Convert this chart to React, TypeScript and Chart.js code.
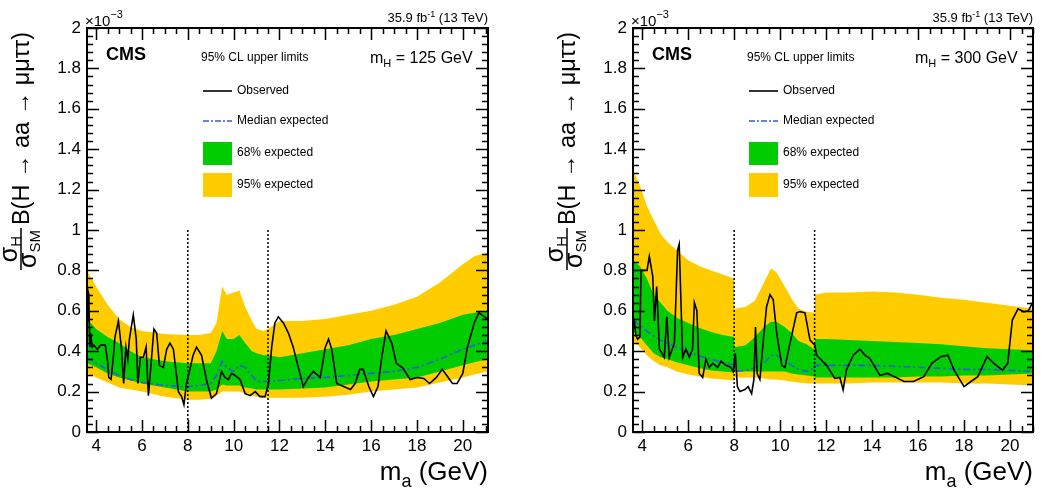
import React, { useEffect, useRef } from "react";
import { Chart, registerables } from "chart.js";

Chart.register(...registerables);

const FONT = "'Liberation Sans', Arial, Helvetica, sans-serif";

// ---------- axes ----------
const xTickValues = [4, 6, 8, 10, 12, 14, 16, 18, 20];
const yTickValues = [0, 0.2, 0.4, 0.6, 0.8, 1, 1.2, 1.4, 1.6, 1.8, 2];
const yTickLabels = ["0", "0.2", "0.4", "0.6", "0.8", "1", "1.2", "1.4", "1.6", "1.8", "2"];
const dividerMasses = [8, 11.5];
const dividerTop = 1.0;

// ---------- mH = 125 GeV (limits in units of 1e-3) ----------
const band125Mass = [3.6, 4, 4.5, 5, 5.5, 6, 7, 8, 8.5, 9, 9.25, 9.5, 9.7, 10, 10.25, 10.5, 10.8, 11, 11.3, 11.5, 12, 13, 14, 15, 16, 17, 18, 19, 20, 20.5, 21.1];
const yellowHi125 = [0.80, 0.72, 0.63, 0.56, 0.52, 0.50, 0.485, 0.48, 0.48, 0.49, 0.54, 0.72, 0.68, 0.69, 0.70, 0.62, 0.55, 0.51, 0.50, 0.51, 0.55, 0.55, 0.56, 0.58, 0.60, 0.63, 0.67, 0.74, 0.83, 0.87, 0.89];
const yellowLo125 = [0.29, 0.27, 0.245, 0.22, 0.21, 0.20, 0.175, 0.16, 0.16, 0.165, 0.18, 0.20, 0.20, 0.20, 0.20, 0.19, 0.18, 0.175, 0.17, 0.17, 0.17, 0.17, 0.175, 0.185, 0.20, 0.21, 0.22, 0.245, 0.27, 0.285, 0.30];
const greenHi125 = [0.56, 0.51, 0.47, 0.44, 0.40, 0.37, 0.35, 0.34, 0.34, 0.34, 0.40, 0.50, 0.46, 0.46, 0.48, 0.44, 0.40, 0.39, 0.38, 0.38, 0.37, 0.39, 0.41, 0.43, 0.46, 0.48, 0.51, 0.54, 0.58, 0.59, 0.60];
const greenLo125 = [0.34, 0.32, 0.29, 0.27, 0.255, 0.24, 0.22, 0.20, 0.20, 0.20, 0.21, 0.235, 0.23, 0.23, 0.23, 0.22, 0.215, 0.21, 0.21, 0.21, 0.21, 0.215, 0.22, 0.235, 0.25, 0.26, 0.27, 0.30, 0.33, 0.345, 0.36];
const median125 = [0.37, 0.34, 0.31, 0.28, 0.26, 0.245, 0.23, 0.225, 0.23, 0.24, 0.28, 0.35, 0.32, 0.30, 0.33, 0.32, 0.28, 0.25, 0.25, 0.25, 0.255, 0.265, 0.27, 0.28, 0.29, 0.30, 0.32, 0.36, 0.41, 0.43, 0.45];
const obsMass125 = [3.6, 3.64, 3.68, 3.72, 3.76, 3.82, 3.9, 4.05, 4.2, 4.4, 4.5, 4.55, 4.65, 4.75, 4.82, 4.97, 5.1, 5.2, 5.3, 5.38, 5.45, 5.62, 5.75, 5.82, 5.93, 6.06, 6.18, 6.28, 6.42, 6.52, 6.64, 6.76, 6.93, 7.08, 7.22, 7.37, 7.59, 7.73, 7.83, 7.94, 8.09, 8.23, 8.38, 8.6, 8.81, 9.03, 9.25, 9.47, 9.62, 9.77, 9.91, 10.06, 10.28, 10.5, 10.72, 10.94, 11.15, 11.37, 11.52, 11.66, 11.8, 11.95, 12.17, 12.39, 12.6, 12.82, 13.04, 13.26, 13.48, 13.78, 14.0, 14.14, 14.28, 14.5, 14.8, 15.1, 15.3, 15.5, 15.65, 15.9, 16.1, 16.3, 16.45, 16.65, 16.9, 17.1, 17.4, 17.7, 18.0, 18.3, 18.55, 18.85, 19.1, 19.3, 19.55, 19.75, 20.0, 20.2, 20.5, 20.7, 20.95, 21.1];
const obsLimit125 = [0.55, 0.70, 0.68, 0.42, 0.49, 0.42, 0.43, 0.41, 0.43, 0.43, 0.35, 0.27, 0.26, 0.37, 0.47, 0.55, 0.42, 0.24, 0.42, 0.36, 0.46, 0.58, 0.46, 0.24, 0.37, 0.37, 0.42, 0.18, 0.37, 0.51, 0.49, 0.33, 0.32, 0.41, 0.44, 0.41, 0.20, 0.175, 0.135, 0.24, 0.31, 0.38, 0.42, 0.38, 0.26, 0.167, 0.19, 0.30, 0.27, 0.26, 0.29, 0.28, 0.26, 0.19, 0.18, 0.20, 0.175, 0.175, 0.24, 0.42, 0.54, 0.57, 0.54, 0.49, 0.42, 0.32, 0.225, 0.27, 0.30, 0.27, 0.42, 0.46, 0.41, 0.24, 0.225, 0.21, 0.24, 0.31, 0.31, 0.225, 0.175, 0.225, 0.36, 0.50, 0.44, 0.34, 0.315, 0.26, 0.27, 0.265, 0.24, 0.27, 0.31, 0.28, 0.24, 0.24, 0.29, 0.42, 0.54, 0.59, 0.57, 0.555];

// ---------- mH = 300 GeV (limits in units of 1e-3) ----------
const band300Mass = [3.6, 3.9, 4.2, 4.5, 4.8, 5.1, 5.5, 6.0, 6.5, 7.0, 7.5, 7.99, 8.01, 8.5, 8.9, 9.3, 9.6, 9.85, 10.2, 10.5, 10.8, 11.15, 11.49, 11.51, 12, 13, 14, 15, 16, 17, 18, 19, 20, 21];
const yellowHi300 = [1.30, 1.22, 1.12, 1.05, 0.98, 0.94, 0.90, 0.85, 0.82, 0.80, 0.78, 0.76, 0.61, 0.62, 0.65, 0.74, 0.81, 0.79, 0.72, 0.66, 0.61, 0.595, 0.59, 0.68, 0.69, 0.69, 0.695, 0.69, 0.68, 0.665, 0.655, 0.64, 0.625, 0.61];
const yellowLo300 = [0.45, 0.42, 0.38, 0.35, 0.33, 0.32, 0.30, 0.285, 0.275, 0.265, 0.26, 0.255, 0.27, 0.27, 0.27, 0.265, 0.26, 0.26, 0.255, 0.25, 0.245, 0.24, 0.24, 0.24, 0.24, 0.24, 0.245, 0.245, 0.245, 0.245, 0.24, 0.24, 0.235, 0.23];
const greenHi300 = [0.85, 0.82, 0.76, 0.68, 0.64, 0.60, 0.565, 0.54, 0.515, 0.495, 0.48, 0.47, 0.42, 0.43, 0.47, 0.52, 0.546, 0.545, 0.52, 0.49, 0.45, 0.435, 0.41, 0.46, 0.46, 0.455, 0.45, 0.445, 0.44, 0.435, 0.425, 0.415, 0.41, 0.405];
const greenLo300 = [0.50, 0.47, 0.43, 0.39, 0.37, 0.36, 0.345, 0.33, 0.315, 0.305, 0.30, 0.295, 0.30, 0.30, 0.30, 0.30, 0.30, 0.30, 0.30, 0.29, 0.285, 0.28, 0.275, 0.27, 0.27, 0.27, 0.27, 0.27, 0.275, 0.275, 0.28, 0.28, 0.285, 0.29];
const median300 = [0.555, 0.53, 0.50, 0.475, 0.455, 0.44, 0.42, 0.395, 0.375, 0.36, 0.345, 0.33, 0.30, 0.305, 0.32, 0.34, 0.38, 0.38, 0.36, 0.33, 0.31, 0.30, 0.315, 0.33, 0.33, 0.33, 0.33, 0.325, 0.32, 0.315, 0.31, 0.31, 0.305, 0.30];
const obsMass300 = [3.6, 3.66, 3.72, 3.8, 3.9, 3.95, 4.09, 4.21, 4.31, 4.46, 4.53, 4.63, 4.75, 4.96, 5.07, 5.18, 5.4, 5.54, 5.61, 5.76, 5.9, 6.05, 6.19, 6.27, 6.38, 6.48, 6.63, 6.77, 6.92, 7.07, 7.28, 7.43, 7.64, 7.86, 7.96, 8.05, 8.14, 8.25, 8.47, 8.61, 8.76, 8.86, 8.93, 9.0, 9.12, 9.27, 9.41, 9.56, 9.7, 9.85, 10.07, 10.21, 10.43, 10.72, 10.86, 11.08, 11.3, 11.51, 11.59, 12.02, 12.38, 12.6, 12.74, 12.89, 13.18, 13.47, 13.69, 13.9, 14.34, 14.67, 14.97, 15.39, 15.8, 16.25, 16.6, 16.99, 17.3, 17.57, 18.0, 18.3, 18.6, 19.0, 19.3, 19.67, 19.9, 20.1, 20.35, 20.6, 20.8, 21.0];
const obsLimit300 = [0.57, 0.55, 0.48, 0.46, 0.47, 0.80, 0.80, 0.80, 0.87, 0.77, 0.55, 0.72, 0.41, 0.37, 0.57, 0.37, 0.44, 0.90, 0.93, 0.37, 0.41, 0.37, 0.41, 0.64, 0.60, 0.29, 0.27, 0.36, 0.32, 0.34, 0.32, 0.35, 0.33, 0.32, 0.30, 0.39, 0.225, 0.20, 0.21, 0.225, 0.19, 0.26, 0.52, 0.29, 0.26, 0.455, 0.62, 0.68, 0.655, 0.49, 0.33, 0.32, 0.44, 0.59, 0.596, 0.59, 0.455, 0.43, 0.38, 0.33, 0.265, 0.27, 0.208, 0.31, 0.38, 0.41, 0.38, 0.365, 0.28, 0.29, 0.274, 0.25, 0.25, 0.274, 0.34, 0.373, 0.38, 0.306, 0.225, 0.25, 0.274, 0.373, 0.34, 0.306, 0.34, 0.554, 0.61, 0.595, 0.60, 0.645];

// ---------- colours ----------
const GREEN = "#00cc00";
const YELLOW = "#ffcc00";
const MEDIAN_BLUE = "#2b5fd9";

type Part = { t: string; size: number; dy?: number; bold?: boolean };

function drawRich(ctx: CanvasRenderingContext2D, parts: Part[], x: number, y: number, align: "left" | "right") {
  ctx.textBaseline = "alphabetic";
  ctx.textAlign = "left";
  const widths = parts.map((p) => {
    ctx.font = `${p.bold ? "bold " : ""}${p.size}px ${FONT}`;
    return ctx.measureText(p.t).width;
  });
  const total = widths.reduce((a, b) => a + b, 0);
  let cx = align === "right" ? x - total : x;
  parts.forEach((p, i) => {
    ctx.font = `${p.bold ? "bold " : ""}${p.size}px ${FONT}`;
    ctx.fillText(p.t, cx, y + (p.dy || 0));
    cx += widths[i];
  });
  return total;
}

function pts(xs: number[], ys: number[]) {
  return xs.map((x, i) => ({ x, y: ys[i] }));
}

type PanelProps = {
  left: number;
  width: number;
  plotRight: number;
  xMax: number;
  mHValue: string;
  bandMass: number[];
  yHi: number[];
  yLo: number[];
  gHi: number[];
  gLo: number[];
  med: number[];
  obsMass: number[];
  obs: number[];
};

const HEIGHT = 499;
const PLOT_TOP = 28;
const PLOT_BOTTOM = 432;
const PLOT_LEFT = 87;

function Panel(props: PanelProps) {
  const ref = useRef<HTMLCanvasElement | null>(null);
  useEffect(() => {
    const canvas = ref.current;
    if (!canvas) return;
    const { width, plotRight, xMax, mHValue } = props;

    const decor = {
      id: "decor" + mHValue,
      afterDatasetsDraw(chart: any) {
        const { ctx, chartArea: a, scales } = chart;
        const xs = scales.x;
        const ys = scales.y;
        ctx.save();
        ctx.strokeStyle = "#000";
        ctx.fillStyle = "#000";
        // ticks
        ctx.lineWidth = 1.5;
        ctx.beginPath();
        for (let k = 0; k * 0.5 + 4 <= xMax + 1e-9; k++) {
          const v = 4 + k * 0.5;
          const major = k % 4 === 0;
          const len = major ? 12 : 6;
          const px = Math.round(xs.getPixelForValue(v)) + 0.5;
          ctx.moveTo(px, a.bottom);
          ctx.lineTo(px, a.bottom - len);
          ctx.moveTo(px, a.top);
          ctx.lineTo(px, a.top + len);
        }
        for (let k = 0; k <= 50; k++) {
          const v = k * 0.04;
          const major = k % 5 === 0;
          const len = major ? 12 : 6;
          const py = Math.round(ys.getPixelForValue(v)) + 0.5;
          ctx.moveTo(a.left, py);
          ctx.lineTo(a.left + len, py);
          ctx.moveTo(a.right, py);
          ctx.lineTo(a.right - len, py);
        }
        ctx.stroke();
        // frame
        ctx.lineWidth = 2;
        ctx.strokeRect(a.left, a.top, a.right - a.left, a.bottom - a.top);

        // x10^-3
        drawRich(ctx, [{ t: "×10", size: 15 }, { t: "−3", size: 11, dy: -8 }], a.left - 2, 26, "left");
        // luminosity
        drawRich(ctx, [{ t: "35.9 fb", size: 13 }, { t: "-1", size: 9, dy: -5 }, { t: " (13 TeV)", size: 13 }], a.right, 22, "right");
        // CMS
        drawRich(ctx, [{ t: "CMS", size: 18, bold: true }], 106, 60, "left");
        // mH
        drawRich(ctx, [{ t: "m", size: 16 }, { t: "H", size: 11, dy: 4 }, { t: " = " + mHValue + " GeV", size: 16 }], plotRight - 118, 63, "left");
        // legend
        ctx.font = `12px ${FONT}`;
        ctx.textBaseline = "middle";
        ctx.textAlign = "left";
        ctx.fillText("95% CL upper limits", 201, 58);
        ctx.lineWidth = 1.6;
        ctx.strokeStyle = "#000";
        ctx.beginPath();
        ctx.moveTo(203, 91);
        ctx.lineTo(232, 91);
        ctx.stroke();
        ctx.fillText("Observed", 237, 91);
        ctx.strokeStyle = MEDIAN_BLUE;
        ctx.setLineDash([6, 2, 2, 2]);
        ctx.beginPath();
        ctx.moveTo(203, 121);
        ctx.lineTo(232, 121);
        ctx.stroke();
        ctx.setLineDash([]);
        ctx.fillText("Median expected", 237, 121);
        ctx.fillStyle = GREEN;
        ctx.fillRect(203, 142, 29, 23);
        ctx.fillStyle = YELLOW;
        ctx.fillRect(203, 173, 29, 24);
        ctx.fillStyle = "#000";
        ctx.fillText("68% expected", 237, 153);
        ctx.fillText("95% expected", 237, 185);

        // x title
        drawRich(ctx, [{ t: "m", size: 26 }, { t: "a", size: 18, dy: 7 }, { t: " (GeV)", size: 26 }], a.right, 480, "right");

        // y title (rotated)
        ctx.save();
        ctx.translate(21, 270);
        ctx.rotate(-Math.PI / 2);
        const sig = 25;
        const sub = 15;
        ctx.font = `${sig}px ${FONT}`;
        const wS = ctx.measureText("σ").width;
        ctx.font = `${sub}px ${FONT}`;
        const wH = ctx.measureText("H").width;
        const wSM = ctx.measureText("SM").width;
        const num = wS + wH;
        const den = wS + wSM;
        const L = Math.max(num, den) + 4;
        ctx.fillRect(0, -0.75, L, 1.5);
        drawRich(ctx, [{ t: "σ", size: sig }, { t: "H", size: sub, dy: 4 }], (L - num) / 2, -4, "left");
        drawRich(ctx, [{ t: "σ", size: sig }, { t: "SM", size: sub, dy: 4 }], (L - den) / 2, 15, "left");
        drawRich(ctx, [{ t: "B(H → aa → μμττ)", size: 23.5 }], L + 3, 8, "left");
        ctx.restore();

        ctx.restore();
      },
    };

    const transparent = "rgba(0,0,0,0)";
    const chart = new Chart(canvas, {
      type: "line",
      data: {
        datasets: [
          {
            label: "divider1",
            data: [{ x: dividerMasses[0], y: 0 }, { x: dividerMasses[0], y: dividerTop }],
            borderColor: "#000",
            borderWidth: 1.5,
            borderDash: [2, 2],
            pointRadius: 0,
            fill: false,
          },
          {
            label: "divider2",
            data: [{ x: dividerMasses[1], y: 0 }, { x: dividerMasses[1], y: dividerTop }],
            borderColor: "#000",
            borderWidth: 1.5,
            borderDash: [2, 2],
            pointRadius: 0,
            fill: false,
          },
          {
            label: "Observed",
            data: pts(props.obsMass, props.obs),
            borderColor: "#000",
            borderWidth: 1.6,
            pointRadius: 0,
            tension: 0,
            fill: false,
          },
          {
            label: "Median expected",
            data: pts(props.bandMass, props.med),
            borderColor: MEDIAN_BLUE,
            borderWidth: 1.6,
            borderDash: [7, 3, 2, 3],
            pointRadius: 0,
            tension: 0,
            fill: false,
          },
          {
            label: "68% expected",
            data: pts(props.bandMass, props.gHi),
            borderColor: transparent,
            backgroundColor: GREEN,
            borderWidth: 0,
            pointRadius: 0,
            tension: 0,
            fill: "+1",
          },
          {
            label: "68% low",
            data: pts(props.bandMass, props.gLo),
            borderColor: transparent,
            borderWidth: 0,
            pointRadius: 0,
            tension: 0,
            fill: false,
          },
          {
            label: "95% expected",
            data: pts(props.bandMass, props.yHi),
            borderColor: transparent,
            backgroundColor: YELLOW,
            borderWidth: 0,
            pointRadius: 0,
            tension: 0,
            fill: "+1",
          },
          {
            label: "95% low",
            data: pts(props.bandMass, props.yLo),
            borderColor: transparent,
            borderWidth: 0,
            pointRadius: 0,
            tension: 0,
            fill: false,
          },
        ],
      },
      options: {
        responsive: false,
        animation: false,
        devicePixelRatio: 1,
        events: [],
        layout: { padding: { top: PLOT_TOP, right: width - plotRight, left: 0, bottom: 0 } },
        plugins: {
          legend: { display: false },
          tooltip: { enabled: false },
          title: { display: false },
          filler: { propagate: false },
        },
        scales: {
          x: {
            type: "linear",
            min: 3.6,
            max: xMax,
            grid: { display: false, drawTicks: false },
            border: { display: false },
            afterBuildTicks: (s: any) => {
              s.ticks = xTickValues.map((v) => ({ value: v }));
            },
            afterFit: (s: any) => {
              s.height = HEIGHT - PLOT_BOTTOM;
            },
            ticks: {
              padding: 4,
              color: "#000",
              font: { family: FONT, size: 17 },
              maxRotation: 0,
              autoSkip: false,
              callback: (v: any) => String(v),
            },
          },
          y: {
            type: "linear",
            min: 0,
            max: 2,
            grid: { display: false, drawTicks: false },
            border: { display: false },
            afterBuildTicks: (s: any) => {
              s.ticks = yTickValues.map((v) => ({ value: v }));
            },
            afterFit: (s: any) => {
              s.width = PLOT_LEFT;
            },
            ticks: {
              padding: 6,
              color: "#000",
              font: { family: FONT, size: 17 },
              autoSkip: false,
              callback: (v: any) => {
                const i = yTickValues.findIndex((t) => Math.abs(t - Number(v)) < 1e-9);
                return i >= 0 ? yTickLabels[i] : "";
              },
            },
          },
        },
      } as any,
      plugins: [decor],
    });
    return () => chart.destroy();
  }, []);

  return (
    <canvas
      ref={ref}
      width={props.width}
      height={HEIGHT}
      style={{ position: "absolute", left: props.left, top: 0, width: props.width, height: HEIGHT, display: "block" }}
    />
  );
}

export default function App() {
  return (
    <div style={{ position: "fixed", left: 0, top: 0, width: 1042, height: 499, background: "#fff", overflow: "hidden" }}>
      <Panel
        left={0}
        width={521}
        plotRight={488}
        xMax={21.1}
        mHValue="125"
        bandMass={band125Mass}
        yHi={yellowHi125}
        yLo={yellowLo125}
        gHi={greenHi125}
        gLo={greenLo125}
        med={median125}
        obsMass={obsMass125}
        obs={obsLimit125}
      />
      <Panel
        left={546}
        width={496}
        plotRight={487}
        xMax={21.0}
        mHValue="300"
        bandMass={band300Mass}
        yHi={yellowHi300}
        yLo={yellowLo300}
        gHi={greenHi300}
        gLo={greenLo300}
        med={median300}
        obsMass={obsMass300}
        obs={obsLimit300}
      />
    </div>
  );
}
